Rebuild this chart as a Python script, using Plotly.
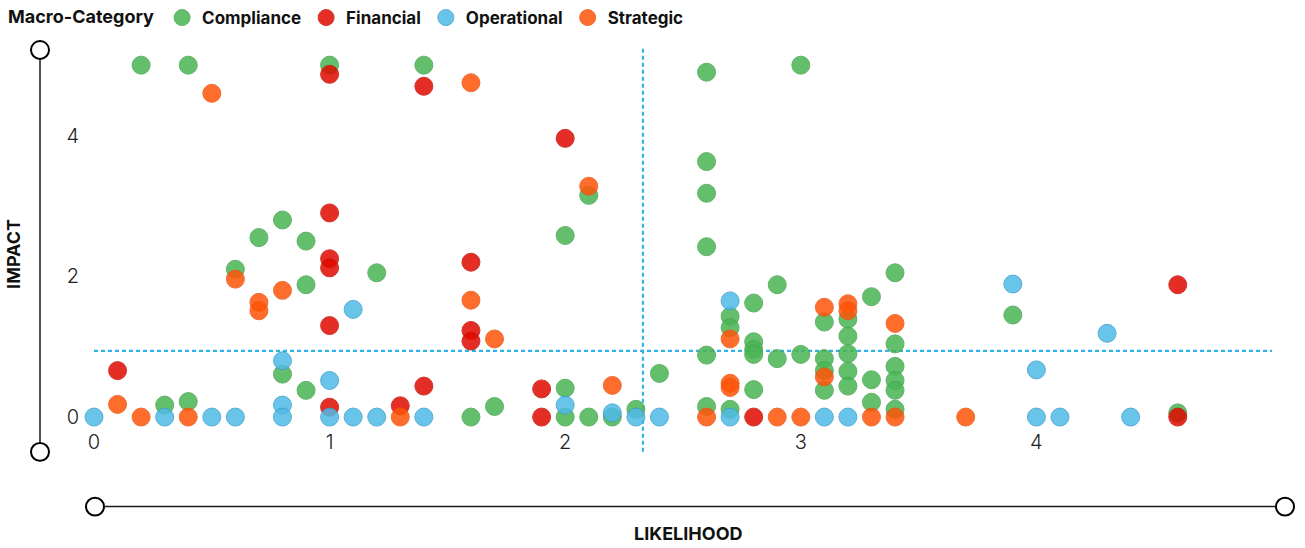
import plotly.graph_objects as go

# ---------------- data ----------------
categories = ["Compliance", "Financial", "Operational", "Strategic"]

compliance_x = [0.2, 0.4, 1.0, 1.4, 0.8, 0.7, 0.9, 0.6, 1.2, 0.9, 0.3, 0.4, 0.8, 0.9, 1.6, 1.7,
                2.1, 2.0, 2.0, 2.0, 2.1, 2.2, 2.3, 2.4, 2.6, 3.0, 2.6, 2.6, 2.6, 2.6, 2.6,
                2.7, 2.7, 2.7, 2.8, 2.8, 2.8, 2.8, 2.8, 2.9, 2.9, 3.0, 3.1, 3.1, 3.1, 3.1,
                3.2, 3.2, 3.2, 3.2, 3.2, 3.3, 3.3, 3.3, 3.4, 3.4, 3.4, 3.4, 3.4, 3.4, 3.9, 4.6]
compliance_y = [5.0, 5.0, 5.0, 5.0, 2.8, 2.55, 2.5, 2.1, 2.05, 1.88, 0.17, 0.22, 0.61, 0.38, 0.0, 0.15,
                3.15, 2.58, 0.41, 0.0, 0.0, 0.0, 0.11, 0.62, 4.9, 5.0, 3.63, 3.18, 2.42, 0.88, 0.15,
                1.43, 1.27, 0.11, 1.62, 1.07, 0.96, 0.89, 0.39, 1.88, 0.83, 0.89, 1.35, 0.83, 0.66, 0.38,
                1.39, 1.15, 0.9, 0.65, 0.44, 1.71, 0.53, 0.21, 2.05, 1.04, 0.72, 0.52, 0.38, 0.11, 1.45, 0.06]

financial_x = [1.0, 1.4, 1.0, 1.0, 1.0, 1.6, 1.0, 1.6, 1.6, 0.1, 1.0, 1.3, 1.4, 2.0, 1.9, 1.9, 2.8, 4.6, 4.6]
financial_y = [4.87, 4.7, 2.9, 2.25, 2.12, 2.2, 1.3, 1.23, 1.08, 0.66, 0.14, 0.16, 0.44, 3.96, 0.4, 0.0, 0.0, 1.88, 0.0]

operational_x = [0.0, 0.3, 0.5, 0.6, 0.8, 0.8, 0.8, 1.0, 1.0, 1.1, 1.2, 1.4, 1.1, 2.0, 2.2, 2.3, 2.4,
                 2.7, 2.7, 3.1, 3.2, 3.9, 4.3, 4.0, 4.0, 4.1, 4.4]
operational_y = [0.0, 0.0, 0.0, 0.0, 0.8, 0.17, 0.0, 0.52, 0.0, 0.0, 0.0, 0.0, 1.53, 0.17, 0.06, 0.0, 0.0,
                 1.65, 0.0, 0.0, 0.0, 1.89, 1.19, 0.67, 0.0, 0.0, 0.0]

strategic_x = [0.5, 1.6, 0.6, 0.8, 0.7, 0.7, 1.6, 1.7, 0.1, 0.2, 0.4, 1.3, 2.1, 2.2, 2.6, 2.7, 2.7, 2.7,
               2.9, 3.0, 3.1, 3.1, 3.2, 3.2, 3.3, 3.4, 3.4, 3.7]
strategic_y = [4.6, 4.75, 1.96, 1.8, 1.63, 1.51, 1.66, 1.11, 0.18, 0.0, 0.0, 0.0, 3.28, 0.45, 0.0, 1.11, 0.48, 0.42,
               0.0, 0.0, 1.56, 0.57, 1.61, 1.51, 0.0, 1.33, 0.0, 0.0]

avg_likelihood = 2.33
avg_impact = 0.94

x_ticks = [0, 1, 2, 3, 4]
y_ticks = [0, 2, 4]

# ---------------- style ----------------
colors = {
    "Compliance": "rgb(74,181,84)",
    "Financial": "rgb(224,10,0)",
    "Operational": "rgb(80,186,230)",
    "Strategic": "rgb(255,84,8)",
}
edge = {
    "Compliance": "rgb(70,165,80)",
    "Financial": "rgb(200,20,10)",
    "Operational": "rgb(60,160,205)",
    "Strategic": "rgb(235,85,20)",
}
FONT = "Inter, Roboto, 'Liberation Sans', sans-serif"

series = {
    "Compliance": (compliance_x, compliance_y),
    "Financial": (financial_x, financial_y),
    "Operational": (operational_x, operational_y),
    "Strategic": (strategic_x, strategic_y),
}

fig = go.Figure()
for cat in categories:
    xs, ys = series[cat]
    fig.add_trace(go.Scatter(
        x=xs, y=ys, mode="markers", name=cat,
        marker=dict(size=18, color=colors[cat], opacity=0.85,
                    line=dict(width=1, color=edge[cat])),
        cliponaxis=False,
    ))

W, H = 1305, 548
L, R, T, B = 84, 20, 46, 120
pw = W - L - R
ph = H - T - B


def px_x(p):
    return (p - L) / pw


def px_y(p):
    return (H - B - p) / ph


shapes = []
dash_col = "#2FB3EA"
# average lines
shapes.append(dict(type="line", xref="x", yref="paper", x0=avg_likelihood, x1=avg_likelihood,
                   y0=px_y(452), y1=1.0, line=dict(color=dash_col, width=2.2, dash="4px,3px"), layer="below"))
shapes.append(dict(type="line", xref="x", yref="y", x0=0, x1=5, y0=avg_impact, y1=avg_impact,
                   line=dict(color=dash_col, width=2.2, dash="4px,3px"), layer="below"))

# decorative axis lines with end circles
axcol = "#1a1a1a"
shapes.append(dict(type="line", xref="paper", yref="paper", x0=px_x(40), x1=px_x(40),
                   y0=px_y(48), y1=px_y(452), line=dict(color=axcol, width=1.5)))
shapes.append(dict(type="line", xref="paper", yref="paper", x0=px_x(95), x1=px_x(1285),
                   y0=px_y(507), y1=px_y(507), line=dict(color=axcol, width=1.5)))
r = 9
for cx, cy in [(40, 48), (40, 452), (95, 507), (1285, 507)]:
    shapes.append(dict(type="circle", xref="paper", yref="paper",
                       x0=px_x(cx - r), x1=px_x(cx + r), y0=px_y(cy + r), y1=px_y(cy - r),
                       fillcolor="white", line=dict(color="black", width=2)))

annotations = [
    dict(text="<b>IMPACT</b>", xref="paper", yref="paper", x=px_x(14), y=px_y(253),
         textangle=-90, showarrow=False, font=dict(family=FONT, size=18, color="#111"),
         xanchor="center", yanchor="middle"),
    dict(text="<b>LIKELIHOOD</b>", xref="paper", yref="paper", x=px_x(688), y=px_y(534),
         showarrow=False, font=dict(family=FONT, size=18, color="#111"),
         xanchor="center", yanchor="middle"),
]

fig.update_layout(
    width=W, height=H,
    margin=dict(l=L, r=R, t=T, b=B, pad=0),
    paper_bgcolor="white", plot_bgcolor="white",
    font=dict(family=FONT, color="#111"),
    showlegend=True,
    legend=dict(
        orientation="h", xref="container", yref="container", x=6 / W, y=1.0,
        xanchor="left", yanchor="top",
        title=dict(text="<b>Macro-Category</b>", font=dict(family=FONT, size=18, color="#111")),
        font=dict(family=FONT, size=17, color="#111", weight="bold"),
        itemsizing="trace",
    ),
    xaxis=dict(range=[-10 / 235.6, (1285 - 94) / 235.6], tickvals=x_ticks,
               showgrid=False, zeroline=False, showline=False, ticks="",
               tickfont=dict(family=FONT, size=20, color="#222", weight=300)),
    yaxis=dict(range=[-(428 - 417) / 70.75, (417 - 46) / 70.75], tickvals=y_ticks,
               showgrid=False, zeroline=False, showline=False, ticks="", ticklabelstandoff=4,
               tickfont=dict(family=FONT, size=20, color="#222", weight=300)),
    shapes=shapes,
    annotations=annotations,
)

fig.write_html("out.html", config={"displayModeBar": False},
               post_script="document.body.style.margin='0px';")
